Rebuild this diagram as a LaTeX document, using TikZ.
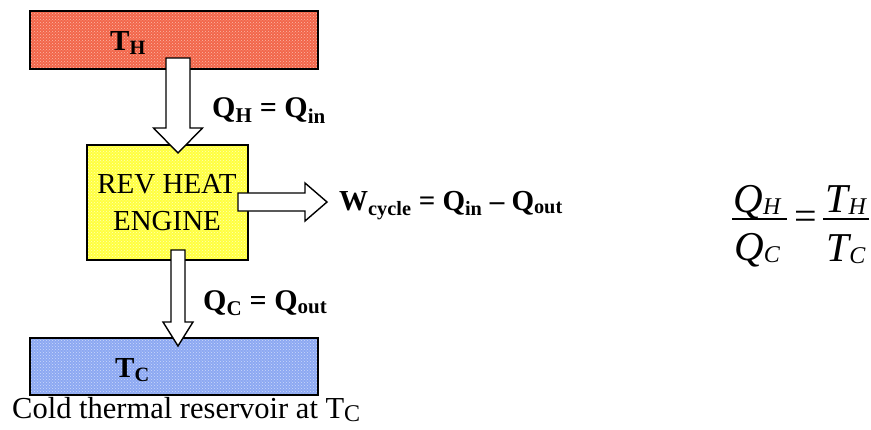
\documentclass[tikz,border=0pt]{standalone}
\usepackage{fontspec}
\setmainfont{Liberation Serif}
\usetikzlibrary{calc,patterns}
\definecolor{hotred}{HTML}{F2664A}
\definecolor{hotdots}{HTML}{FBB8A8}
\definecolor{engyellow}{HTML}{FFFF40}
\definecolor{engdots}{HTML}{FFFFB8}
\definecolor{coldblue}{HTML}{8CA8F2}
\definecolor{colddots}{HTML}{CCDAFA}
\newcommand\eqsub[2]{{\itshape #1\raisebox{-2pt}{\fontsize{24}{24}\selectfont #2}}}
\begin{document}
\begin{tikzpicture}[x=1pt,y=-1pt,
  box/.style={draw=black,line width=1.6pt,inner sep=0pt,anchor=north west},
  fat/.style={draw=black,line width=1.4pt,fill=white,line join=miter},
  lbl/.style={font=\fontsize{30}{34}\selectfont\bfseries,inner sep=0pt,anchor=base west},
  txt/.style={font=\fontsize{29}{37}\selectfont,inner sep=0pt},
  eqtxt/.style={font=\fontsize{41}{41}\selectfont,inner sep=0pt,anchor=base},
  eqbar/.style={line width=1.3pt}]
\useasboundingbox (0,0) rectangle (871,429);
% reservoirs and engine
\node[box,preaction={fill=hotred},pattern=crosshatch dots,pattern color=hotdots,
  minimum width=288pt,minimum height=58pt] (hot) at (29,10) {};
\node[box,preaction={fill=engyellow},pattern=crosshatch dots,pattern color=engdots,
  minimum width=161pt,minimum height=115pt] (eng) at (86,144) {};
\node[box,preaction={fill=coldblue},pattern=crosshatch dots,pattern color=colddots,
  minimum width=288pt,minimum height=57pt] (cold) at (29,337) {};
% texts in boxes
\node[lbl,font=\fontsize{29}{34}\selectfont\bfseries] (th) at (110,50) {T\textsubscript{H}};
\node[lbl,font=\fontsize{29}{34}\selectfont\bfseries] (tc) at (115,377) {T\textsubscript{C}};
\node[txt,align=center] (engtxt) at (167,203) {REV HEAT\\ENGINE};
% fat arrows
\coordinate (ta) at (178,58);  \coordinate (tb) at (178,153);
\coordinate (ra) at (238,202); \coordinate (rb) at (327,202);
\coordinate (ba) at (178,250); \coordinate (bb) at (178,346);
\draw[fat] ($(ta)+(-12,0)$) -- ($(ta)+(12,0)$) -- ($(tb)+(12,-25)$) -- ($(tb)+(24.5,-25)$)
  -- (tb) -- ($(tb)+(-24.5,-25)$) -- ($(tb)+(-12,-25)$) -- cycle;
\draw[fat] ($(ra)+(0,-9)$) -- ($(rb)+(-22,-9)$) -- ($(rb)+(-22,-19)$) -- (rb)
  -- ($(rb)+(-22,19)$) -- ($(rb)+(-22,9)$) -- ($(ra)+(0,9)$) -- cycle;
\draw[fat] ($(ba)+(-7,0)$) -- ($(ba)+(7,0)$) -- ($(bb)+(7,-24)$) -- ($(bb)+(15,-24)$)
  -- (bb) -- ($(bb)+(-15,-24)$) -- ($(bb)+(-7,-24)$) -- cycle;
% labels
\node[lbl] (qh) at (212,117) {Q\textsubscript{H} = Q\textsubscript{in}};
\node[lbl,font=\fontsize{29}{34}\selectfont\bfseries] (w) at (339,210) {W\textsubscript{cycle} = Q\textsubscript{in} -- Q\textsubscript{out}};
\node[lbl] (qc) at (203,310) {Q\textsubscript{C} = Q\textsubscript{out}};
\node[txt,font=\fontsize{30.5}{36}\selectfont,anchor=base west] (cap) at (12,418)
  {Cold thermal reservoir at T\raisebox{-3pt}{\fontsize{24}{24}\selectfont C}};
% equation
\node[eqtxt] (qhn) at (757,212) {\eqsub{Q}{H}};
\node[eqtxt] (qcd) at (757,260) {\eqsub{Q}{C}};
\draw[eqbar] (732,219) -- (787,219);
\node[eqtxt,font=\fontsize{40}{40}\selectfont] (eqs) at (806,229) {=};
\node[eqtxt] (thn) at (846,212) {\eqsub{T}{H}};
\node[eqtxt] (tcd) at (846,261) {\eqsub{T}{C}};
\draw[eqbar] (823,219) -- (869,219);
\end{tikzpicture}
\end{document}
